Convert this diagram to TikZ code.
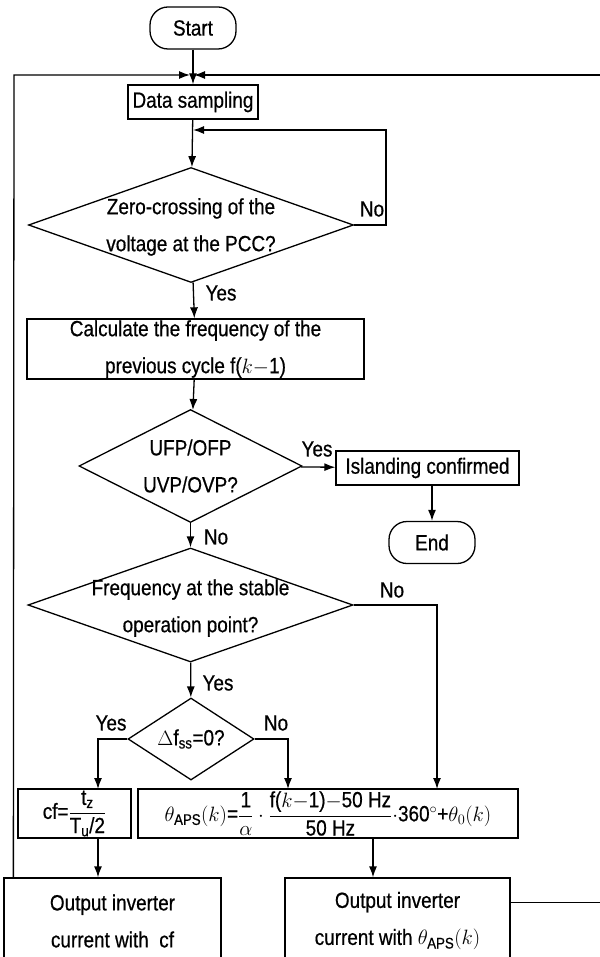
\documentclass[tikz,border=0pt]{standalone}
\usepackage{amsmath}
\usepackage{fontspec}
\setmainfont{Liberation Sans}[FakeStretch=0.86, FakeBold=0.6]
\usetikzlibrary{shapes.geometric,arrows.meta}

\begin{document}
\begin{tikzpicture}[x=1pt, y=-1pt,
    every node/.style={font=\fontsize{22}{37}\selectfont},
    box/.style={draw, line width=1.3pt, inner sep=0pt, align=center},
    term/.style={box, rounded corners=18pt, minimum width=86pt, minimum height=42pt},
    dia/.style={draw, diamond, line width=1.3pt, inner sep=0pt},
    txt/.style={inner sep=0pt, align=center},
    arr/.style={line width=1.3pt, -{Latex[length=11pt, width=8pt]}}]
    \useasboundingbox (0,0) rectangle (599,957);

    % Nodes
    \node[term] (start) at (193,28) {Start};
    \node[box, minimum width=130pt, minimum height=34pt] (sample) at (193,102) {Data sampling};
    \node[dia, minimum width=325pt, minimum height=115pt] (zc) at (191,225) {};
    \node[txt] (zc-t) at (191,227) {Zero-crossing of the\\voltage at the PCC?};
    \node[box, minimum width=337pt, minimum height=60pt] (calc) at (195.5,349) {Calculate the frequency of the\\previous cycle f($k${$-$}1)};
    \node[dia, minimum width=223pt, minimum height=113pt] (ufp) at (190.5,466) {};
    \node[txt] (ufp-t) at (190.5,466) {UFP/OFP\\UVP/OVP?};
    \node[box, minimum width=183pt, minimum height=34pt] (isl) at (427.5,468) {Islanding confirmed};
    \node[term] (end) at (432,542.5) {End};
    \node[dia, minimum width=325pt, minimum height=114pt] (freq) at (190.5,605) {};
    \node[txt] (freq-t) at (190.5,608) {Frequency at the stable\\operation point?};
    \node[dia, minimum width=126pt, minimum height=82pt] (dss) at (191,739) {};
    \node[txt] (dss-t) at (191,739) {$\Delta$f$_{\text{ss}}$=0?};
    \node[box, minimum width=113pt, minimum height=49pt] (cf) at (74.5,813.5)
        {cf=$\dfrac{\text{t}_{\text{z}}}{\text{T}_{\text{u}}\text{/2}}$};
    \node[box, minimum width=380pt, minimum height=49pt] (th) at (328,813.5)
        {$\theta_{\text{APS}}(k)$=$\dfrac{\text{1}}{\alpha}\cdot\dfrac{\text{f(}k{-}\text{1)}{-}\text{50 Hz}}{\text{50 Hz}}\cdot$360$^\circ$+$\theta_0(k)$};
    \node[box, minimum width=217pt, minimum height=86pt] (outcf) at (112.5,921) {Output inverter\\current with~~cf};
    \node[box, minimum width=225pt, minimum height=86pt] (outth) at (397.5,921) {Output inverter\\current with $\theta_{\text{APS}}(k)$};

    % Coordinates
    \coordinate (join) at (192,75);
    \coordinate (cornerL) at (14,75);
    \coordinate (cornerR) at (603,75);
    \coordinate (zcR) at (386,130);
    \coordinate (zcback) at (193,130);
    \coordinate (thR) at (437,789);
    \coordinate (cfin) at (98,789);
    \coordinate (thL) at (288,789);
    \coordinate (thout) at (373,789);

    % Edges
    \draw[arr] (start) -- (sample);
    \draw[arr] ([xshift=10pt]outcf.north west) -- (cornerL) -- ([xshift=-2pt]join);
    \draw[arr] ([yshift=-25pt]outth.north east) -| (cornerR) -- ([xshift=2pt]join);
    \draw[arr] (sample) -- (zc);
    \draw[arr] (zc.east) -| (zcR) -- (zcback);
    \draw[arr] (zc) -- (calc);
    \draw[arr] (calc) -- (ufp);
    \draw[arr] (ufp) -- (isl);
    \draw[arr] (end.north |- isl.south) -- (end);
    \draw[arr] (ufp) -- (freq);
    \draw[arr] (freq.east) -| (thR);
    \draw[arr] (freq) -- (dss);
    \draw[arr] (dss.west) -| (cfin);
    \draw[arr] (dss.east) -| (thL);
    \draw[arr] (cfin |- cf.south) -- (cfin |- outcf.north);
    \draw[arr] (thout |- th.south) -- (thout |- outth.north);

    % Labels
    \node (zc-no) at (372,209) {No};
    \node (zc-yes) at (221,293) {Yes};
    \node (ufp-yes) at (317,449) {Yes};
    \node (ufp-no) at (216,537) {No};
    \node (freq-no) at (392,590) {No};
    \node (freq-yes) at (218,683) {Yes};
    \node (dss-yes) at (111,723) {Yes};
    \node (dss-no) at (276,723) {No};
\end{tikzpicture}
\end{document}
